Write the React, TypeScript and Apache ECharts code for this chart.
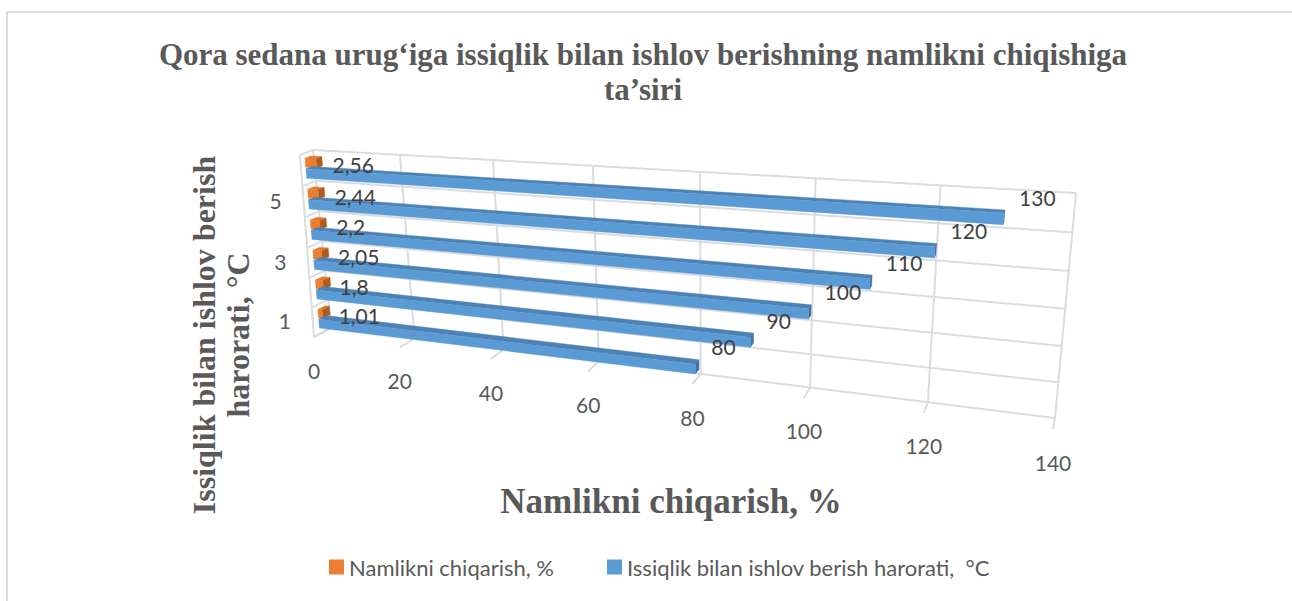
import React, { useEffect, useRef } from "react";
import * as echarts from "echarts";

const W = 1292;
const H = 601;
const titleText = "Qora sedana urug‘iga issiqlik bilan ishlov berishning namlikni chiqishiga\nta’siri";
const xAxisName = "Namlikni chiqarish, %";
const yAxisName = "Issiqlik bilan ishlov berish\nharorati, °C";
const seriesMoisture = "Namlikni chiqarish, %";
const seriesTemp = "Issiqlik bilan ishlov berish harorati,  °C";
const rowTicks = [1, 3, 5];
const xTicks = [0, 20, 40, 60, 80, 100, 120, 140];
const rowLines = [0, 1, 2, 3, 4, 5, 6];
const moisture = [1.01, 1.8, 2.05, 2.2, 2.44, 2.56];
const temperature = [80, 90, 100, 110, 120, 130];

const X_MAX = 140;
const Y_MAX = 6;
// Perspective box of the 3D plot: back wall and front plane corners (bl, br, tr, tl).
const BACK: number[][] = [[331, 328], [1055, 418], [1076, 193], [313, 150]];
const FRONT: number[][] = [[314, 337], [1053, 429], [1074, 200], [300, 155]];

function homography(q: number[][]) {
  const [[x0, y0], [x1, y1], [x2, y2], [x3, y3]] = q;
  const dx1 = x1 - x2, dx2 = x3 - x2, sx = x0 - x1 + x2 - x3;
  const dy1 = y1 - y2, dy2 = y3 - y2, sy = y0 - y1 + y2 - y3;
  const den = dx1 * dy2 - dx2 * dy1;
  const g = (sx * dy2 - dx2 * sy) / den;
  const h = (dx1 * sy - sx * dy1) / den;
  const a = x1 - x0 + g * x1, b = x3 - x0 + h * x3, c = x0;
  const d = y1 - y0 + g * y1, e = y3 - y0 + h * y3, f = y0;
  return (s: number, t: number) => {
    const w = g * s + h * t + 1;
    return [(a * s + b * t + c) / w, (d * s + e * t + f) / w];
  };
}
const backH = homography(BACK);
const frontH = homography(FRONT);

// api: custom-series api; (u, v) are data values read through the hidden axes, w is depth 0..1.
function project(api: any, u: number, v: number, w: number) {
  const p = api.coord([u, v]);
  const s = p[0] / W;
  const t = 1 - p[1] / H;
  const b = backH(s, t);
  const f = frontH(s, t);
  return [b[0] + (f[0] - b[0]) * w, b[1] + (f[1] - b[1]) * w];
}

const GRID = "#dcdcdc";
const TICK = "#595959";
const LABEL = "#404040";
const FONT = "Lato";
const FS = 21;

function lineEl(a: number[], b: number[]) {
  return {
    type: "line",
    shape: { x1: a[0], y1: a[1], x2: b[0], y2: b[1] },
    style: { stroke: GRID, lineWidth: 2, fill: "none" },
  };
}
function textEl(text: string, x: number, y: number, fill: string, align: string) {
  return {
    type: "text",
    style: { text, x, y, fill, fontFamily: FONT, fontSize: FS, align, verticalAlign: "middle" },
  };
}
function poly(points: number[][], fill: string) {
  return { type: "polygon", shape: { points }, style: { fill, stroke: fill, lineWidth: 0.4 } };
}

function cuboid(api: any, val: number, v0: number, v1: number, colors: string[]) {
  const w0 = 0.2, w1 = 0.65;
  const fr = (u: number, v: number) => project(api, u, v, w1);
  const bk = (u: number, v: number) => project(api, u, v, w0);
  return [
    poly([fr(0, v1), fr(val, v1), bk(val, v1), bk(0, v1)], colors[1]),
    poly([fr(val, v0), fr(val, v1), bk(val, v1), bk(val, v0)], colors[2]),
    poly([fr(0, v0), fr(val, v0), fr(val, v1), fr(0, v1)], colors[0]),
  ];
}

const BLUE = ["#5b9bd5", "#4d82b5", "#41719c"];
const ORANGE = ["#ed7d31", "#e2772e", "#ae5a21"];

function App() {
  const ref = useRef<HTMLDivElement>(null);
  useEffect(() => {
    const chart = echarts.init(ref.current!, undefined, { renderer: "svg" });
    const rows = moisture.map((_, i) => i);
    const backToFront = [...rows].reverse();
    chart.setOption({
      animation: false,
      backgroundColor: "#ffffff",
      title: {
        text: titleText,
        left: 638,
        top: 32,
        textAlign: "center",
        padding: 5,
        textStyle: {
          fontFamily: "Liberation Serif",
          fontWeight: "bold",
          fontSize: 31,
          lineHeight: 35,
          color: "#595959",
        },
      },
      legend: {
        left: 329,
        top: 556,
        padding: 0,
        icon: "rect",
        itemWidth: 15,
        itemHeight: 15,
        itemGap: 53,
        data: [seriesMoisture, seriesTemp],
        textStyle: { fontFamily: FONT, fontSize: 22, color: TICK },
      },
      grid: { left: 0, top: 0, right: 0, bottom: 0 },
      xAxis: { type: "value", min: 0, max: X_MAX, interval: 20, show: false },
      yAxis: { type: "value", min: 0, max: Y_MAX, interval: 1, show: false },
      graphic: [
        {
          type: "line",
          shape: { x1: 7, y1: 12, x2: W, y2: 12 },
          style: { stroke: GRID, lineWidth: 2 },
        },
        {
          type: "line",
          shape: { x1: 7, y1: 12, x2: 7, y2: H },
          style: { stroke: GRID, lineWidth: 2 },
        },
        {
          type: "text",
          x: 671,
          y: 501,
          style: {
            text: xAxisName,
            fill: TICK,
            fontFamily: "Liberation Serif",
            fontWeight: "bold",
            fontSize: 35,
            align: "center",
            verticalAlign: "middle",
          },
        },
        {
          type: "text",
          x: 221,
          y: 335,
          rotation: Math.PI / 2,
          style: {
            text: yAxisName,
            fill: TICK,
            fontFamily: "Liberation Serif",
            fontWeight: "bold",
            fontSize: 32,
            lineHeight: 34,
            align: "center",
            verticalAlign: "middle",
          },
        },
      ],
      series: [
        {
          type: "custom",
          name: "xGrid",
          coordinateSystem: "cartesian2d",
          silent: true,
          z: 1,
          data: xTicks.map((t) => [t, 0]),
          renderItem: (_: any, api: any) => {
            const u = api.value(0);
            const bottom = project(api, u, 0, 0);
            const tickEnd = project(api, u, 0, 1);
            const children: any[] = [
              lineEl(project(api, u, Y_MAX, 0), bottom),
              lineEl(bottom, tickEnd),
            ];
            children.push(textEl(String(u), tickEnd[0], tickEnd[1] + 33, TICK, "center"));
            return { type: "group", children };
          },
        },
        {
          type: "custom",
          name: "yGrid",
          coordinateSystem: "cartesian2d",
          silent: true,
          z: 1,
          data: rowLines.map((t) => [0, t]),
          renderItem: (_: any, api: any) => {
            const v = api.value(1);
            const start = project(api, 0, v, 0);
            return {
              type: "group",
              children: [lineEl(start, project(api, X_MAX, v, 0)), lineEl(start, project(api, 0, v, 1))],
            };
          },
        },
        {
          type: "custom",
          name: "leftEdge",
          coordinateSystem: "cartesian2d",
          silent: true,
          z: 1,
          data: [[0, 0]],
          renderItem: (_: any, api: any) => lineEl(project(api, 0, 0, 1), project(api, 0, Y_MAX, 1)),
        },
        {
          type: "custom",
          name: "rowLabels",
          coordinateSystem: "cartesian2d",
          silent: true,
          z: 1,
          data: rowTicks.map((t) => [0, t - 1]),
          renderItem: (_: any, api: any) => {
            const r = api.value(1);
            const p = project(api, 0, r + 0.5, 1);
            return textEl(String(r + 1), p[0] - 28, p[1] - 1.5, TICK, "center");
          },
        },
        {
          type: "custom",
          name: seriesMoisture,
          coordinateSystem: "cartesian2d",
          itemStyle: { color: "#ed7d31" },
          z: 2,
          data: backToFront.map((i) => [moisture[i], i]),
          renderItem: (_: any, api: any) => {
            const r = api.value(1);
            return { type: "group", children: cuboid(api, api.value(0), r + 0.55, r + 0.84, ORANGE) };
          },
        },
        {
          type: "custom",
          name: seriesTemp,
          coordinateSystem: "cartesian2d",
          itemStyle: { color: "#5b9bd5" },
          z: 3,
          data: backToFront.map((i) => [temperature[i], i]),
          renderItem: (_: any, api: any) => {
            const r = api.value(1);
            return { type: "group", children: cuboid(api, api.value(0), r + 0.2, r + 0.5, BLUE) };
          },
        },
        {
          type: "custom",
          name: "moistureLabels",
          coordinateSystem: "cartesian2d",
          silent: true,
          z: 4,
          data: rows.map((i) => [moisture[i], i]),
          renderItem: (_: any, api: any) => {
            const val = api.value(0);
            const r = api.value(1);
            const p = project(api, val, r + 0.6, 0.65);
            return textEl(String(val).replace(".", ","), p[0] + 16, p[1] - 1.5, LABEL, "left");
          },
        },
        {
          type: "custom",
          name: "tempLabels",
          coordinateSystem: "cartesian2d",
          silent: true,
          z: 4,
          data: rows.map((i) => [temperature[i], i]),
          renderItem: (_: any, api: any) => {
            const val = api.value(0);
            const r = api.value(1);
            const p = project(api, val, r + 0.25, 0.65);
            return textEl(String(val), p[0] + 16, p[1] - 25.5, LABEL, "left");
          },
        },
      ],
    });
    return () => chart.dispose();
  }, []);
  return <div ref={ref} style={{ position: "fixed", left: 0, top: 0, width: W, height: H }} />;
}

export default App;
